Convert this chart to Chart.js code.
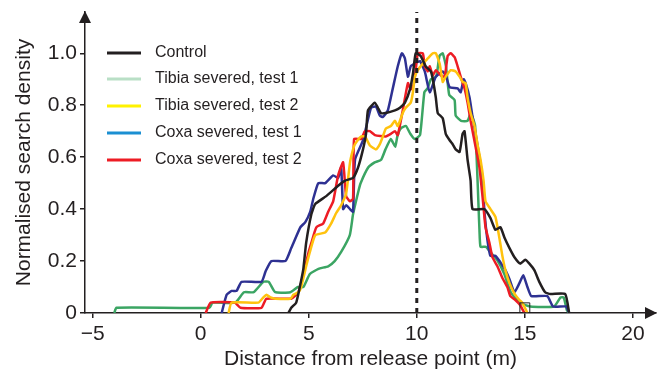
<!DOCTYPE html>
<html>
<head>
<meta charset="utf-8">
<script src="https://cdn.jsdelivr.net/npm/chart.js@4.4.1/dist/chart.umd.min.js"></script>
<style>
  html, body { margin: 0; padding: 0; background: #fff; }
  #wrap { width: 664px; height: 370px; }
</style>
</head>
<body>
<div id="wrap"><canvas id="search"></canvas></div>
<script>
// tick values / labels
const xTicks = [-5, 0, 5, 10, 15, 20];
const xTickLabels = ["\u22125", "0", "5", "10", "15", "20"];
const yTicks = [0, 0.2, 0.4, 0.6, 0.8, 1.0];
const yTickLabels = ["0", "0.2", "0.4", "0.6", "0.8", "1.0"];

const seriesNames = ["Control", "Tibia severed, test 1", "Tibia severed, test 2", "Coxa severed, test 1", "Coxa severed, test 2"];

// Control
const controlX = [4.06, 4.19, 4.42, 4.61, 4.75, 4.88, 5.12, 5.3, 5.81, 6.36, 6.68, 7.05, 7.28, 7.51, 7.65, 7.74, 8.06, 8.2, 8.34, 8.57, 8.99, 9.22, 9.45, 9.68, 9.82, 9.95, 10.18, 10.41, 10.65, 10.74, 10.88, 10.97, 11.2, 11.34, 11.52, 11.66, 11.8, 11.98, 12.12, 12.21, 12.35, 12.49, 12.58, 13.13, 13.41, 13.64, 13.87, 14.06, 14.29, 14.52, 14.79, 15.02, 15.21, 15.44, 15.67, 15.94, 16.18, 16.87, 17.05];
const controlY = [0, 0.02, 0.04, 0.11, 0.17, 0.27, 0.38, 0.42, 0.45, 0.49, 0.51, 0.52, 0.56, 0.63, 0.69, 0.78, 0.81, 0.79, 0.77, 0.77, 0.78, 0.79, 0.81, 0.86, 0.92, 1.0, 0.99, 0.95, 0.93, 0.9, 0.83, 0.77, 0.75, 0.69, 0.665, 0.65, 0.63, 0.62, 0.69, 0.7, 0.59, 0.51, 0.4, 0.4, 0.365, 0.32, 0.33, 0.29, 0.25, 0.215, 0.19, 0.205, 0.19, 0.165, 0.12, 0.08, 0.073, 0.073, 0];

// Tibia severed, test 1
const tibia1X = [-4.0, -3.9, 0.4, 0.55, 1.6, 2.0, 2.45, 2.9, 3.15, 3.45, 4.15, 4.5, 4.75, 5.05, 5.45, 5.9, 6.2, 6.5, 6.9, 7.05, 7.3, 7.4, 7.75, 8.05, 8.35, 8.55, 8.8, 9.0, 9.1, 9.25, 9.5, 9.7, 9.9, 10.15, 10.35, 10.5, 10.65, 10.9, 11.05, 11.2, 11.35, 11.5, 11.75, 11.8, 12.05, 12.35, 12.5, 12.7, 12.9, 12.95, 13.2, 13.4, 13.75, 14.05, 14.35, 14.75, 15.25, 16.35, 16.65, 16.8, 16.95, 17.05];
const tibia1Y = [0, 0.02, 0.02, 0.04, 0.04, 0.08, 0.08, 0.12, 0.12, 0.08, 0.08, 0.1, 0.1, 0.15, 0.17, 0.18, 0.2, 0.235, 0.3, 0.38, 0.47, 0.5, 0.56, 0.58, 0.59, 0.63, 0.67, 0.64, 0.68, 0.71, 0.72, 0.69, 0.67, 0.685, 0.85, 0.865, 0.9, 0.91, 0.99, 1.0, 0.95, 0.84, 0.82, 0.76, 0.74, 0.74, 0.77, 0.72, 0.32, 0.255, 0.255, 0.235, 0.2, 0.15, 0.08, 0.04, 0.025, 0.025, 0.06, 0.06, 0.01, 0];

// Tibia severed, test 2
const tibia2X = [1.29, 1.43, 2.67, 2.9, 3.04, 3.23, 3.46, 4.15, 4.29, 4.52, 4.65, 4.88, 5.07, 5.3, 5.76, 6.04, 6.27, 6.5, 6.73, 6.91, 7.05, 7.14, 7.42, 7.6, 7.83, 8.11, 8.29, 8.43, 8.57, 8.8, 8.99, 9.12, 9.35, 9.49, 9.72, 9.82, 9.91, 10.05, 10.28, 10.51, 10.74, 10.88, 11.06, 11.2, 11.34, 11.57, 11.8, 11.98, 12.12, 12.26, 12.35, 12.49, 12.67, 12.81, 12.95, 13.09, 13.18, 13.41, 13.64, 13.82, 13.96, 14.1, 14.29, 14.52, 14.75, 14.88, 15.12];
const tibia2Y = [0, 0.04, 0.04, 0.06, 0.07, 0.06, 0.055, 0.055, 0.07, 0.08, 0.1, 0.18, 0.24, 0.3, 0.31, 0.345, 0.385, 0.415, 0.46, 0.58, 0.63, 0.65, 0.68, 0.68, 0.645, 0.63, 0.65, 0.68, 0.71, 0.72, 0.74, 0.72, 0.77, 0.79, 0.81, 0.85, 0.91, 0.935, 0.96, 0.98, 1.0, 1.0, 0.96, 0.89, 0.91, 0.935, 0.93, 0.91, 0.89, 0.885, 0.83, 0.77, 0.72, 0.65, 0.59, 0.51, 0.43, 0.4, 0.37, 0.29, 0.22, 0.165, 0.115, 0.075, 0.05, 0.04, 0];

// Coxa severed, test 1
const coxa1X = [0.97, 1.2, 1.43, 1.66, 1.89, 2.81, 3.0, 3.27, 3.92, 4.19, 4.61, 4.84, 5.07, 5.21, 5.44, 5.76, 6.13, 6.36, 6.5, 6.59, 6.73, 6.91, 7.05, 7.14, 7.51, 7.88, 8.11, 8.29, 8.43, 8.66, 8.89, 9.12, 9.31, 9.45, 9.59, 9.72, 9.91, 10.14, 10.37, 10.6, 10.88, 11.2, 11.34, 11.52, 11.89, 12.03, 12.17, 12.26, 12.44, 12.58, 12.72, 12.9, 13.04, 13.13, 13.27, 13.41, 13.64, 13.87, 14.1, 14.29, 14.52, 14.75, 14.93, 15.12, 15.3, 16.04, 16.31, 16.91, 17.05];
const coxa1Y = [0, 0.07, 0.085, 0.085, 0.12, 0.12, 0.16, 0.2, 0.2, 0.25, 0.33, 0.35, 0.39, 0.44, 0.5, 0.5, 0.53, 0.52, 0.56, 0.4, 0.415, 0.4, 0.39, 0.59, 0.665, 0.79, 0.795, 0.76, 0.755, 0.78, 0.865, 0.95, 1.0, 0.98, 0.91, 0.95, 0.96, 0.97, 0.93, 0.85, 0.91, 0.93, 0.915, 0.87, 0.865, 0.85, 0.9, 0.885, 0.83, 0.755, 0.69, 0.6, 0.52, 0.39, 0.28, 0.22, 0.22, 0.195, 0.165, 0.13, 0.08, 0.115, 0.145, 0.1, 0.065, 0.065, 0.025, 0.025, 0];

// Coxa severed, test 2
const coxa2X = [0.23, 0.46, 1.57, 1.84, 2.81, 3.04, 4.19, 4.52, 4.75, 4.98, 5.12, 5.35, 5.67, 5.9, 6.13, 6.36, 6.59, 6.73, 6.91, 7.05, 7.1, 7.42, 7.6, 7.83, 8.06, 8.57, 8.8, 8.99, 9.12, 9.35, 9.59, 9.72, 9.86, 9.95, 10.05, 10.28, 10.37, 10.51, 10.6, 10.74, 10.88, 11.11, 11.29, 11.43, 11.57, 11.75, 11.89, 12.03, 12.21, 12.35, 12.49, 12.72, 12.9, 13.04, 13.18, 13.36, 13.5, 13.73, 13.96, 14.19, 14.33, 14.56, 14.79, 14.98];
const coxa2Y = [0, 0.04, 0.04, 0.02, 0.02, 0.055, 0.055, 0.08, 0.15, 0.23, 0.27, 0.33, 0.345, 0.39, 0.43, 0.53, 0.58, 0.45, 0.43, 0.44, 0.67, 0.67, 0.7, 0.7, 0.685, 0.68, 0.69, 0.7, 0.685, 0.78, 0.885, 0.86, 0.88, 0.935, 1.0, 1.0, 0.95, 0.93, 0.95, 0.915, 0.935, 0.915, 0.91, 0.99, 1.0, 0.985, 0.95, 0.91, 0.865, 0.81, 0.74, 0.64, 0.56, 0.45, 0.33, 0.27, 0.215, 0.18, 0.135, 0.1, 0.065, 0.05, 0.03, 0];

const releasePoint = 10;
const boxMarker = [{ x: 15.0, y: 0.02 }];

const xMin = -5.355, xMax = 21.07;
const yMin = 0, yMax = 1.159;

const ink = "#231f20";
const family = "'Liberation Sans', Arial, Helvetica, sans-serif";
const curveColors = ["#231f20", "#3ba563", "#ffc20e", "#2e3192", "#ed1c24"];
const legendColors = ["#231f20", "#b9dfc6", "#fff200", "#1b8fd2", "#ed1c24"];

const pts = (xs, ys) => xs.map((x, i) => ({ x: x, y: ys[i] }));

function curve(i, xs, ys, order) {
    return {
        label: seriesNames[i],
        data: pts(xs, ys),
        borderColor: curveColors[i],
        borderWidth: 2.5,
        pointRadius: 0,
        tension: 0.15,
        fill: false,
        order: order,
    };
}

const legendRows = [53, 79, 106, 133, 160];

const insideLegend = {
    id: "insideLegend",
    afterDraw(chart) {
        const ctx = chart.ctx;
        ctx.save();
        ctx.font = "16px " + family;
        ctx.textBaseline = "middle";
        seriesNames.forEach((name, i) => {
            const y = legendRows[i];
            ctx.strokeStyle = legendColors[i];
            ctx.lineWidth = 3;
            ctx.beginPath();
            ctx.moveTo(107, y);
            ctx.lineTo(141, y);
            ctx.stroke();
            ctx.fillStyle = ink;
            ctx.fillText(name, 155, y);
        });
        ctx.restore();
    },
};

const axisArrows = {
    id: "axisArrows",
    afterDraw(chart) {
        const { ctx, chartArea: a } = chart;
        ctx.save();
        ctx.fillStyle = ink;
        ctx.beginPath();
        ctx.moveTo(a.left, a.top - 1);
        ctx.lineTo(a.left - 6, a.top + 11);
        ctx.lineTo(a.left + 6, a.top + 11);
        ctx.closePath();
        ctx.fill();
        ctx.beginPath();
        ctx.moveTo(a.right + 1, a.bottom);
        ctx.lineTo(a.right - 11, a.bottom - 6);
        ctx.lineTo(a.right - 11, a.bottom + 6);
        ctx.closePath();
        ctx.fill();
        ctx.restore();
    },
};

const ctxEl = document.getElementById("search");
const searchChart = new Chart(ctxEl, {
    type: "line",
    data: {
        datasets: [
            curve(0, controlX, controlY, 0),
            curve(1, tibia1X, tibia1Y, 4),
            curve(2, tibia2X, tibia2Y, 1),
            curve(3, coxa1X, coxa1Y, 3),
            curve(4, coxa2X, coxa2Y, 2),
            {
                label: "release",
                data: [{ x: releasePoint, y: yMin }, { x: releasePoint, y: yMax }],
                borderColor: ink,
                borderWidth: 3,
                borderDash: [5, 5],
                pointRadius: 0,
                order: -1,
            },
            {
                label: "box",
                data: boxMarker,
                showLine: false,
                pointStyle: "rect",
                pointRadius: 7,
                borderColor: ink,
                borderWidth: 1,
                backgroundColor: "rgba(0,0,0,0)",
                order: -2,
            },
        ],
    },
    options: {
        responsive: true,
        maintainAspectRatio: false,
        animation: false,
        layout: { padding: { top: 12, right: 5, left: 0, bottom: 0 } },
        plugins: {
            legend: { display: false },
            tooltip: { enabled: false },
        },
        scales: {
            x: {
                type: "linear",
                min: xMin,
                max: xMax,
                afterBuildTicks: (axis) => { axis.ticks = xTicks.map((v) => ({ value: v })); },
                afterFit: (axis) => {
                    axis.height = 57;
                    axis.paddingLeft = 0;
                    axis.paddingRight = 0;
                },
                ticks: {
                    callback: (v, i) => xTickLabels[i],
                    font: { size: 21, family: family },
                    color: ink,
                    padding: 4,
                    maxRotation: 0,
                    autoSkip: false,
                },
                grid: { display: true, drawOnChartArea: false, drawTicks: true, tickLength: 5, color: ink, lineWidth: 1.5 },
                border: { display: true, color: ink, width: 1.5 },
                title: {
                    display: true,
                    text: "Distance from release point (m)",
                    font: { size: 21, family: family, lineHeight: 1 },
                    color: ink,
                    padding: 0,
                },
            },
            y: {
                min: yMin,
                max: yMax,
                afterBuildTicks: (axis) => { axis.ticks = yTicks.map((v) => ({ value: v })); },
                afterFit: (axis) => {
                    axis.width = 85;
                    axis.paddingTop = 0;
                    axis.paddingBottom = 0;
                },
                ticks: {
                    callback: (v, i) => yTickLabels[i],
                    font: { size: 21, family: family },
                    color: ink,
                    padding: 3,
                },
                grid: { display: true, drawOnChartArea: false, drawTicks: true, tickLength: 5, color: ink, lineWidth: 1.5 },
                border: { display: true, color: ink, width: 1.5 },
                title: {
                    display: true,
                    text: "Normalised search density",
                    font: { size: 21, family: family, lineHeight: 1.2 },
                    color: ink,
                    padding: { top: 12, bottom: 0 },
                },
            },
        },
    },
    plugins: [insideLegend, axisArrows],
});
</script>
</body>
</html>
